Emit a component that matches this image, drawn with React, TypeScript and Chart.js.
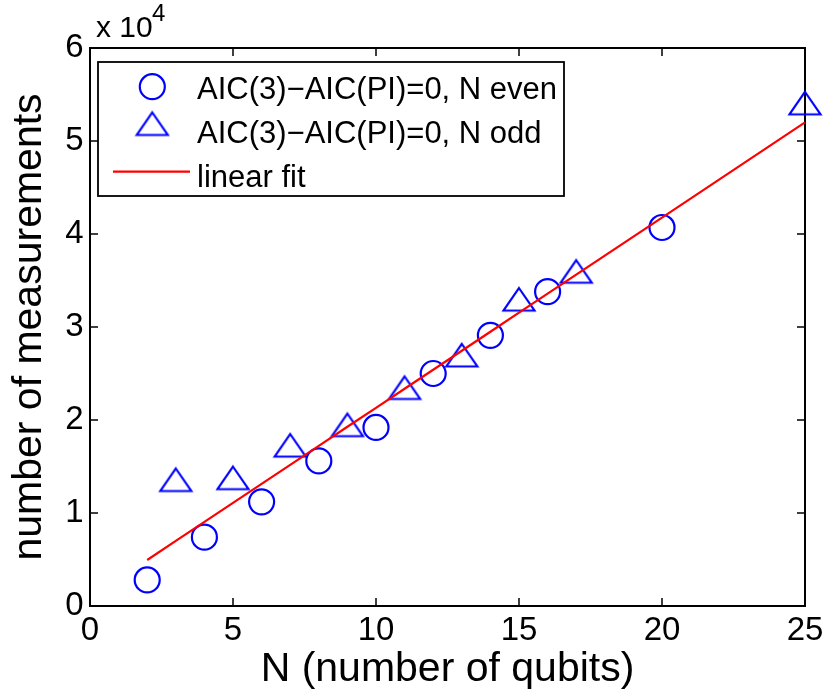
import React, { useEffect, useRef } from 'react';
import { Chart, registerables } from 'chart.js';

Chart.register(...registerables);

// ---- data (measurements as raw counts) ----
const evenN = [2, 4, 6, 8, 10, 12, 14, 16, 20];
const evenMeasurements = [2800, 7400, 11200, 15600, 19200, 25000, 29100, 33800, 40700];
const oddN = [3, 5, 7, 9, 11, 13, 15, 17, 25];
const oddMeasurements = [13600, 13800, 17300, 19500, 23500, 27000, 33000, 36000, 54100];
const fitN = [2, 3, 4, 5, 6, 7, 8, 9, 10, 11, 12, 13, 14, 15, 16, 17, 20, 25];
const fitMeasurements = [4950, 7000, 9040, 11090, 13130, 15180, 17220, 19270, 21310, 23360, 25400, 27450, 29490, 31540, 33580, 35630, 41760, 52000];
const xTicks = [0, 5, 10, 15, 20, 25];
const yTicks = [0, 1, 2, 3, 4, 5, 6]; // in units of 10^4
const legendLabels = ['AIC(3)\u2212AIC(PI)=0, N even', 'AIC(3)\u2212AIC(PI)=0, N odd', 'linear fit'];
const xTitle = 'N (number of qubits)';
const yTitle = 'number of measurements';

const FONT = "'Liberation Sans', Arial, Helvetica, sans-serif";
const BLUE = '#0000ff';
const RED = '#ff0000';

function makeTriangle(): HTMLCanvasElement {
  const c = document.createElement('canvas');
  c.width = 36;
  c.height = 28;
  const g = c.getContext('2d')!;
  g.strokeStyle = BLUE;
  g.lineWidth = 2.2;
  g.lineJoin = 'miter';
  g.beginPath();
  g.moveTo(18, 3);
  g.lineTo(33.5, 25.5);
  g.lineTo(2.5, 25.5);
  g.closePath();
  g.stroke();
  return c;
}

export default function App() {
  const ref = useRef<HTMLCanvasElement | null>(null);

  useEffect(() => {
    const canvas = ref.current;
    if (!canvas) return;
    const tri = makeTriangle();

    const framePlugin = {
      id: 'matlabFrame',
      beforeDatasetsDraw(chart: any) {
        const { ctx, chartArea } = chart;
        const { left, right, top, bottom } = chartArea;
        ctx.save();
        ctx.strokeStyle = '#000';
        ctx.lineWidth = 2;
        ctx.strokeRect(left, top, right - left, bottom - top);
        const tl = 8;
        ctx.lineWidth = 1.5;
        ctx.beginPath();
        for (const v of xTicks) {
          const px = chart.scales.x.getPixelForValue(v);
          ctx.moveTo(px, bottom);
          ctx.lineTo(px, bottom - tl);
          ctx.moveTo(px, top);
          ctx.lineTo(px, top + tl);
        }
        for (const v of yTicks) {
          const py = chart.scales.y.getPixelForValue(v * 10000);
          ctx.moveTo(left, py);
          ctx.lineTo(left + tl, py);
          ctx.moveTo(right, py);
          ctx.lineTo(right - tl, py);
        }
        ctx.stroke();
        ctx.restore();
      },
      afterDraw(chart: any) {
        const { ctx } = chart;
        ctx.save();
        // exponent label
        ctx.fillStyle = '#000';
        ctx.textBaseline = 'alphabetic';
        ctx.textAlign = 'left';
        ctx.font = `30px ${FONT}`;
        ctx.fillText('x 10', 96, 37);
        ctx.font = `24px ${FONT}`;
        ctx.fillText('4', 152, 21);

        // legend box
        const bx = 98, by = 62, bw = 466, bh = 134;
        ctx.fillStyle = '#fff';
        ctx.fillRect(bx, by, bw, bh);
        ctx.strokeStyle = '#000';
        ctx.lineWidth = 1.8;
        ctx.strokeRect(bx, by, bw, bh);

        // entry 1: circle
        ctx.strokeStyle = BLUE;
        ctx.lineWidth = 2.2;
        ctx.beginPath();
        ctx.arc(152.3, 86.7, 12.5, 0, Math.PI * 2);
        ctx.stroke();
        // entry 2: triangle
        ctx.drawImage(tri, 152.3 - tri.width / 2, 123.5 - tri.height / 2);
        // entry 3: line
        ctx.strokeStyle = RED;
        ctx.lineWidth = 2.2;
        ctx.beginPath();
        ctx.moveTo(113, 171.7);
        ctx.lineTo(190, 171.7);
        ctx.stroke();

        ctx.fillStyle = '#000';
        ctx.font = `31px ${FONT}`;
        ctx.fillText(legendLabels[0], 197, 99);
        ctx.fillText(legendLabels[1], 197, 142.7);
        ctx.fillText(legendLabels[2], 197, 186.7);
        ctx.restore();
      },
    };

    const chart = new Chart(canvas, {
      type: 'scatter',
      data: {
        datasets: [
          {
            label: legendLabels[2],
            data: fitN.map((n, i) => ({ x: n, y: fitMeasurements[i] })),
            showLine: true,
            borderColor: RED,
            borderWidth: 2.2,
            pointRadius: 0,
            fill: false,
            tension: 0,
            order: 0,
            clip: false as any,
          },
          {
            label: legendLabels[0],
            data: evenN.map((n, i) => ({ x: n, y: evenMeasurements[i] })),
            pointStyle: 'circle',
            pointRadius: 12.5,
            borderColor: BLUE,
            backgroundColor: 'rgba(0,0,0,0)',
            borderWidth: 2.2,
            order: 1,
            clip: false as any,
          },
          {
            label: legendLabels[1],
            data: oddN.map((n, i) => ({ x: n, y: oddMeasurements[i] })),
            pointStyle: tri as any,
            pointRadius: 14,
            borderColor: BLUE,
            backgroundColor: 'rgba(0,0,0,0)',
            order: 2,
            clip: false as any,
          },
        ],
      },
      options: {
        animation: false,
        responsive: false,
        maintainAspectRatio: false,
        events: [],
        layout: { padding: { top: 48, right: 19, left: 0, bottom: 0 } },
        plugins: {
          legend: { display: false },
          tooltip: { enabled: false },
        },
        scales: {
          x: {
            type: 'linear',
            min: 0,
            max: 25,
            afterBuildTicks: (s: any) => {
              s.ticks = xTicks.map((v) => ({ value: v }));
            },
            grid: { display: false, drawTicks: false },
            border: { display: false },
            ticks: {
              font: { family: FONT, size: 33 },
              color: '#000',
              padding: 5,
              maxRotation: 0,
              autoSkip: false,
            },
            title: {
              display: true,
              text: xTitle,
              color: '#000',
              font: { family: FONT, size: 41, lineHeight: 1.2 },
              padding: { top: 0, bottom: 0 },
            },
            afterFit: (s: any) => {
              s.height = 88;
              s.paddingLeft = 0;
              s.paddingRight = 0;
            },
          },
          y: {
            type: 'linear',
            min: 0,
            max: 60000,
            afterBuildTicks: (s: any) => {
              s.ticks = yTicks.map((v) => ({ value: v * 10000 }));
            },
            grid: { display: false, drawTicks: false },
            border: { display: false },
            ticks: {
              font: { family: FONT, size: 33 },
              color: '#000',
              padding: 6.5,
              autoSkip: false,
              callback: (v: any) => String(Number(v) / 10000),
            },
            title: {
              display: true,
              text: yTitle,
              color: '#000',
              font: { family: FONT, size: 41, lineHeight: 1.2 },
              padding: { top: 5, bottom: 0 },
            },
            afterFit: (s: any) => {
              s.width = 90;
              s.paddingTop = 0;
              s.paddingBottom = 0;
            },
          },
        },
      },
      plugins: [framePlugin],
    });

    return () => {
      chart.destroy();
    };
  }, []);

  return (
    <div style={{ position: 'absolute', left: 0, top: 0, width: 824, height: 694, background: '#fff' }}>
      <canvas ref={ref} width={824} height={694} style={{ display: 'block', width: 824, height: 694 }} />
    </div>
  );
}
